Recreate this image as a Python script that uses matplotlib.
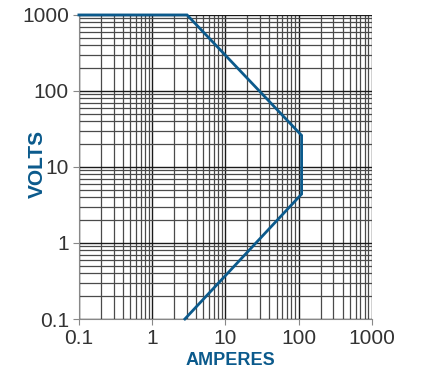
import matplotlib.pyplot as plt
from matplotlib.ticker import LogLocator, NullFormatter, FixedLocator

# curve corners (amperes, volts)
amps = [0.1, 3.0, 110, 110, 2.8]
volts = [1000, 1000, 26, 4.4, 0.1]

ticks = [0.1, 1, 10, 100, 1000]
tick_labels = ['0.1', '1', '10', '100', '1000']

blue = '#0b5a8c'

fig = plt.figure(figsize=(4.22, 3.69), dpi=100)
ax = fig.add_axes([0.187, 0.1355, 0.694, 0.824])

ax.set_xscale('log')
ax.set_yscale('log')
ax.set_xlim(0.1, 1000)
ax.set_ylim(0.1, 1000)

ax.xaxis.set_major_locator(FixedLocator(ticks))
ax.yaxis.set_major_locator(FixedLocator(ticks))
ax.set_xticklabels(tick_labels)
ax.set_yticklabels(tick_labels)
ax.xaxis.set_minor_locator(LogLocator(base=10, subs=range(2, 10)))
ax.yaxis.set_minor_locator(LogLocator(base=10, subs=range(2, 10)))
ax.xaxis.set_minor_formatter(NullFormatter())
ax.yaxis.set_minor_formatter(NullFormatter())

ax.grid(True, which='major', color='#1a1a1a', lw=1.0)
ax.grid(True, which='minor', color='#4a4a4a', lw=0.9)
ax.set_axisbelow(True)

ax.tick_params(which='major', length=4.3, width=0.8, color='#888888',
               labelsize=15, labelcolor='#333333', pad=3)
ax.tick_params(which='minor', length=0)
for lab in ax.get_xticklabels() + ax.get_yticklabels():
    lab.set_family('Liberation Sans')

ax.spines['top'].set_visible(False)
ax.spines['right'].set_visible(False)
ax.spines['left'].set_color('#888888')
ax.spines['bottom'].set_color('#888888')

ax.plot(amps, volts, color=blue, lw=2.0, clip_on=False, zorder=5,
        solid_joinstyle='miter')

fig.text(0.088, 0.555, 'VOLTS', rotation=90, ha='center', va='center',
         color=blue, fontsize=15, fontweight='bold', family='Liberation Sans')
fig.text(0.545, 0.0, 'AMPERES', ha='center', va='bottom',
         color=blue, fontsize=13, fontweight='bold', family='Liberation Sans')

fig.savefig('out.png', dpi=100)
